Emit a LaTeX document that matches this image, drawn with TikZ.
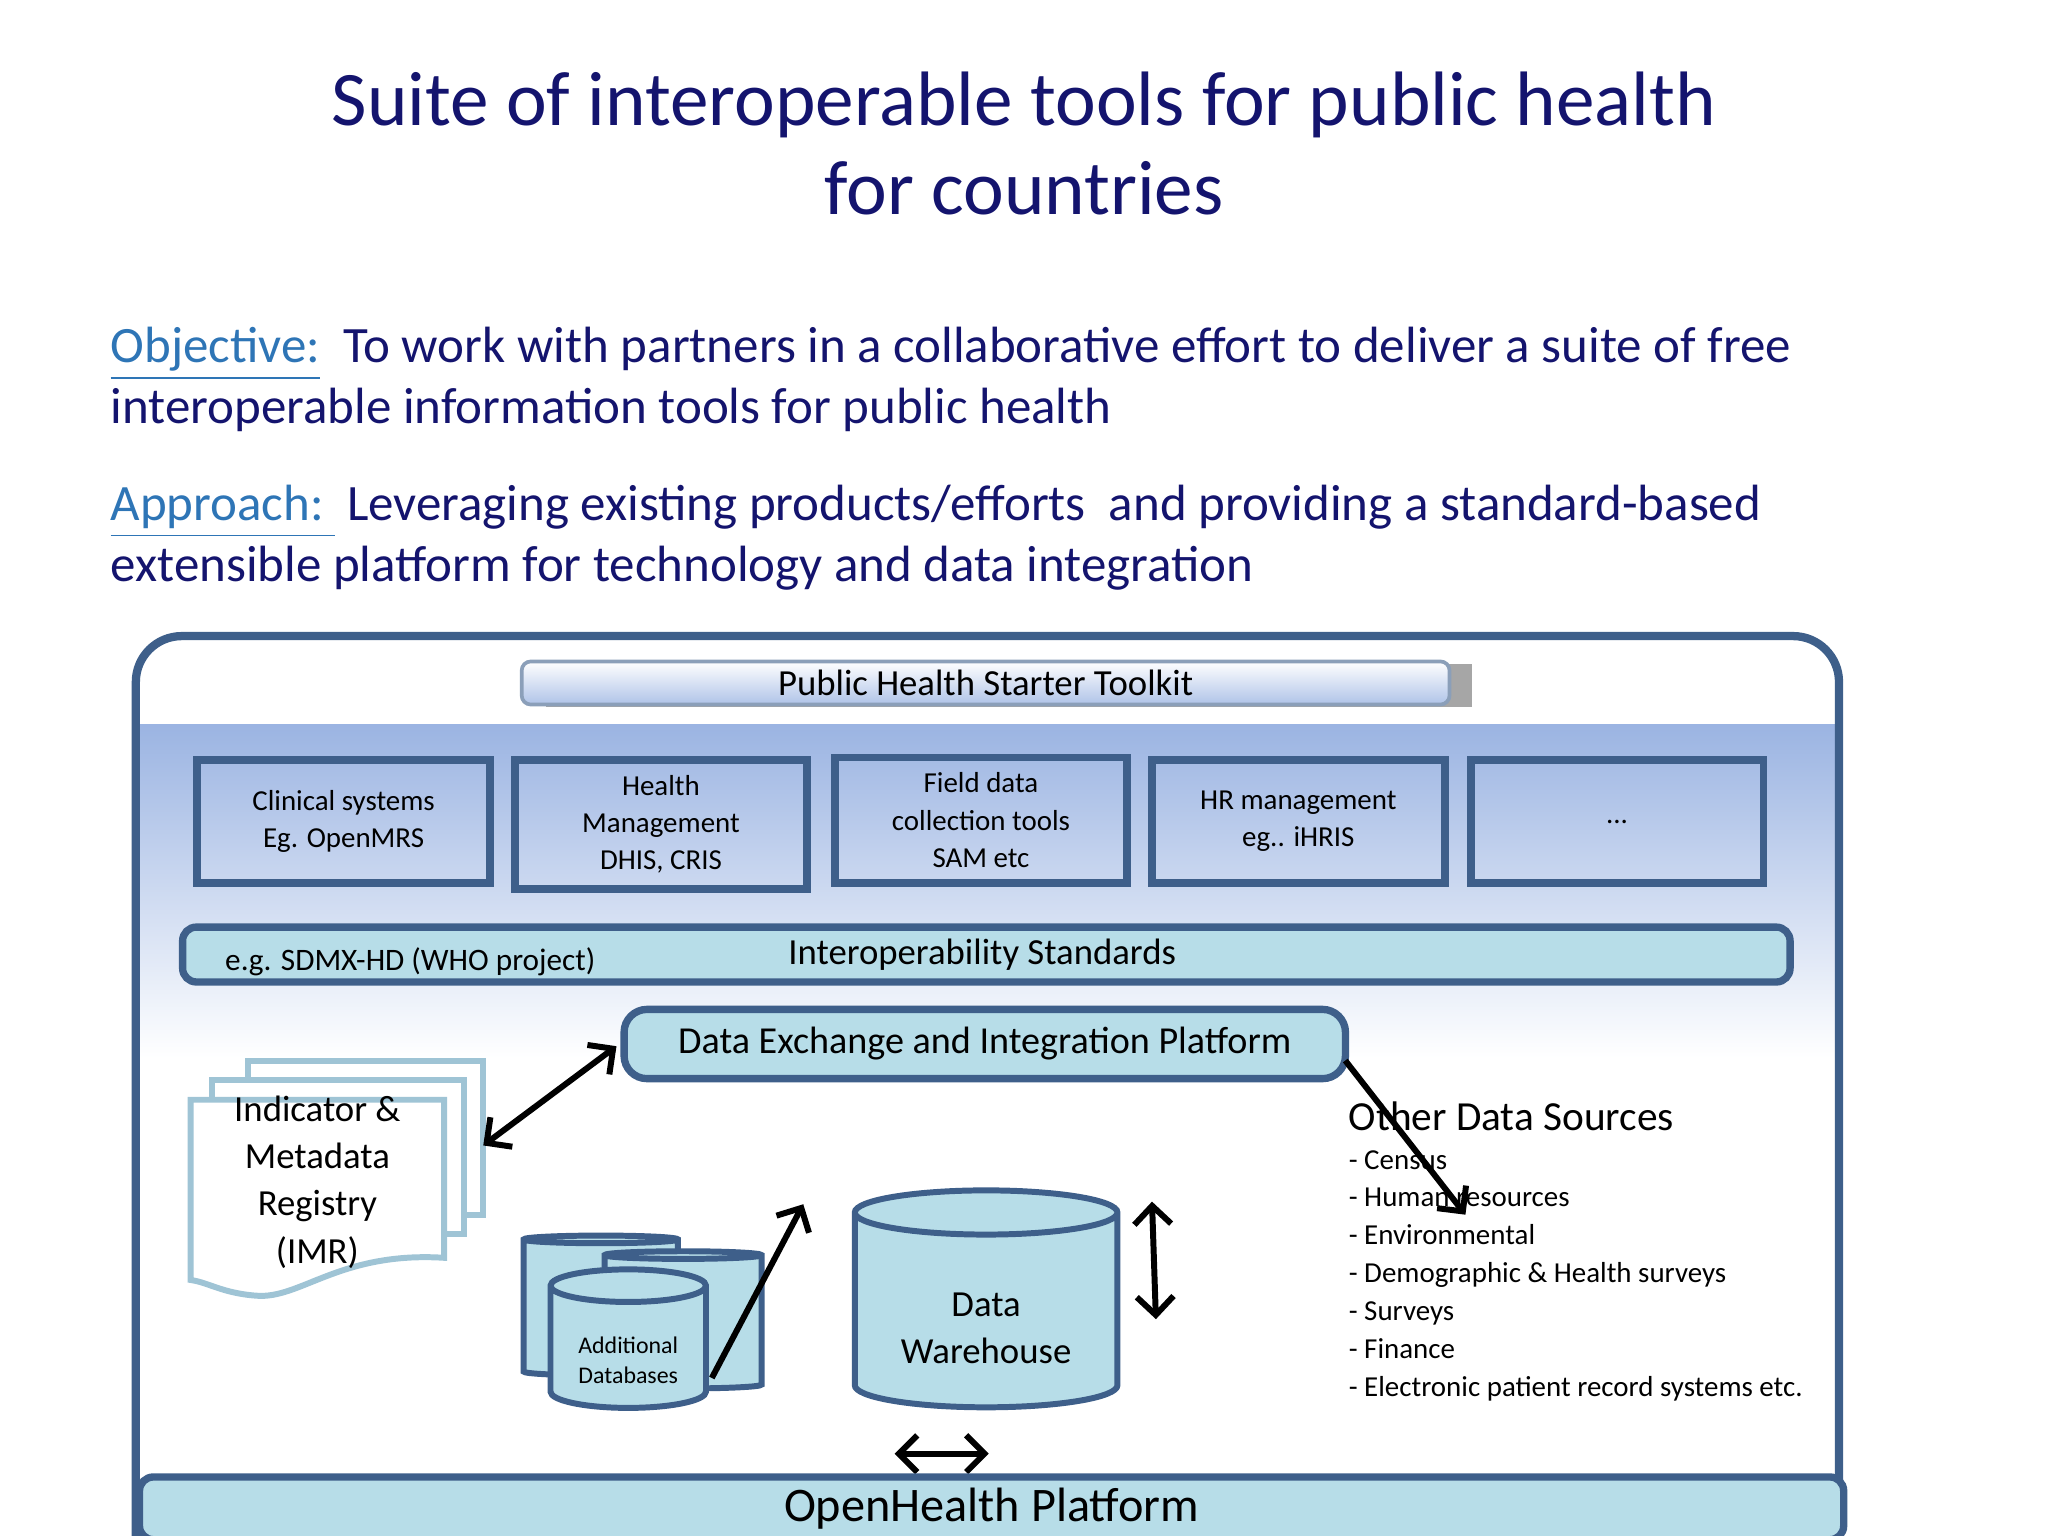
\documentclass[tikz,border=0pt]{standalone}
\usepackage{fontspec}
\setmainfont{Carlito}
\usetikzlibrary{shapes.geometric,arrows.meta}
\definecolor{navy}{RGB}{20,20,110}
\definecolor{lnk}{RGB}{46,117,182}
\definecolor{bord}{RGB}{62,95,138}
\definecolor{teal}{RGB}{183,221,232}
\definecolor{band}{RGB}{155,180,226}
\tikzset{
 sysbox/.style={draw=bord,line width=1.7pt,minimum width=2.24cm,minimum height=0.94cm,align=center,font=\fontsize{6.3}{8.1}\selectfont,anchor=north west},
 bar/.style={draw=bord,line width=1.6pt,fill=teal,rounded corners=3pt,anchor=north west},
 dbl/.style={{Straight Barb[length=4pt]}-{Straight Barb[length=4pt]},line width=1.3pt},
 sgl/.style={-{Straight Barb[length=4pt]},line width=1.3pt},
 cyl/.style={cylinder,shape border rotate=90,draw=bord,line width=1.3pt,fill=teal,cylinder uses custom fill,cylinder body fill=teal,cylinder end fill=teal!60,aspect=0.25,align=center}
}
\begin{document}
\begin{tikzpicture}[x=0.01cm,y=-0.01cm]
\useasboundingbox (0,0) rectangle (1568,1176);
\node[navy,font=\fontsize{16.8}{19.5}\selectfont,align=center] (title) at (784,110) {Suite of interoperable tools for public health\\for countries};
\node[navy,anchor=north west,align=left,inner sep=0pt,font=\fontsize{11.1}{13.3}\selectfont] (obj) at (84,250) {\textcolor{lnk}{\underline{Objective:}}\ \ To work with partners in a collaborative effort to deliver a suite of free\\interoperable information tools for public health};
\node[navy,anchor=north west,align=left,inner sep=0pt,font=\fontsize{11.1}{13.3}\selectfont] (app) at (84,371) {\textcolor{lnk}{\underline{Approach:\ }} Leveraging existing products/efforts\ \ and providing a standard-based\\extensible platform for technology and data integration};
% frame
\shade[top color=band,bottom color=white] (106,555) rectangle (1406,810);
\draw[bord,line width=1.8pt,rounded corners=10pt] (104,1176) -- (104,487) -- (1408,487) -- (1408,1176);
% toolkit
\fill[gray!70] (418,508) rectangle (1127,541);
\node[draw=bord!60,line width=0.8pt,top color=white,bottom color=band!80,rounded corners=2pt,minimum width=7.1cm,minimum height=0.33cm,anchor=north west,font=\fontsize{8}{9}\selectfont,inner sep=0pt] (kit) at (398,505) {Public Health Starter Toolkit};
% systems
\node[sysbox] (s1) at (148,579) {Clinical systems\\Eg. OpenMRS};
\node[sysbox] (s2) at (391,579) {Health\\Management\\DHIS, CRIS};
\node[sysbox] (s3) at (636,577) {Field data\\collection tools\\SAM etc};
\node[sysbox] (s4) at (879,579) {HR management\\eg.. iHRIS};
\node[sysbox] (s5) at (1123,579) {...};
\node[bar,minimum width=12.3cm,minimum height=0.42cm] (iop) at (137,707) {};
\node[font=\fontsize{8}{9}\selectfont] (iopt) at (752,731) {Interoperability Standards};
\node[anchor=west,font=\fontsize{6.8}{8}\selectfont] (sdmx) at (160,736) {e.g. SDMX-HD (WHO project)};
\node[bar,minimum width=5.52cm,minimum height=0.53cm,font=\fontsize{8.3}{9}\selectfont,rounded corners=5pt] (dx) at (475,770) {Data Exchange and Integration Platform};
% IMR
\draw[teal!80!bord,line width=1.3pt,fill=white] (190,812) rectangle (370,930);
\draw[teal!80!bord,line width=1.3pt,fill=white] (162,827) rectangle (355,945);
\draw[teal!80!bord,line width=1.3pt,fill=white] (146,842) -- (340,842) -- (340,963) .. controls (260,958) and (230,995) .. (196,992) .. controls (170,990) and (160,982) .. (146,980) -- cycle;
\node[align=center,font=\fontsize{8}{10.3}\selectfont] (imr) at (243,905) {Indicator \&\\Metadata\\Registry\\(IMR)};
\coordinate (imrA) at (370,877);
\coordinate (dxA) at (472,801);
\draw[dbl] (imrA) -- (dxA);
% databases
\node[cyl,minimum width=1.18cm,minimum height=1.07cm] (db1) at (460,1003) {};
\node[cyl,minimum width=1.2cm,minimum height=1.05cm] (db2) at (523,1014) {};
\node[cyl,minimum width=1.19cm,minimum height=1.06cm,font=\fontsize{5.2}{6.6}\selectfont] (db3) at (481,1036) {\\Additional\\Databases};
\coordinate (dbs) at (545,1055);
\coordinate (dbt) at (615,922);
\draw[sgl] (dbs) -- (dbt);
\node[cyl,minimum width=2.01cm,minimum height=1.66cm,aspect=0.22,font=\fontsize{8}{10.3}\selectfont] (dw) at (755,1008) {\\Data\\Warehouse};
\coordinate (va) at (882,920); \coordinate (vb) at (885,1010);
\draw[dbl] (va) -- (vb);
\coordinate (ha) at (685,1113); \coordinate (hb) at (757,1113);
\draw[dbl] (ha) -- (hb);
% other
\node[anchor=west,font=\fontsize{9}{10}\selectfont,inner sep=0pt] (ods) at (1032,855) {Other Data Sources};
\node[anchor=north west,align=left,font=\fontsize{6.3}{8.25}\selectfont,inner sep=0pt] (list) at (1032,880) {- Census\\- Human resources\\- Environmental\\- Demographic \& Health surveys\\- Surveys\\- Finance\\- Electronic patient record systems etc.};
\coordinate (os) at (1030,812);
\coordinate (oa) at (1122,930);
\draw[sgl] (os) -- (oa);
\node[bar,minimum width=13.04cm,minimum height=0.48cm,font=\fontsize{10.5}{11}\selectfont,inner sep=0pt] (ohp) at (104,1128) {\raisebox{-6pt}{OpenHealth Platform}};
\end{tikzpicture}
\end{document}
